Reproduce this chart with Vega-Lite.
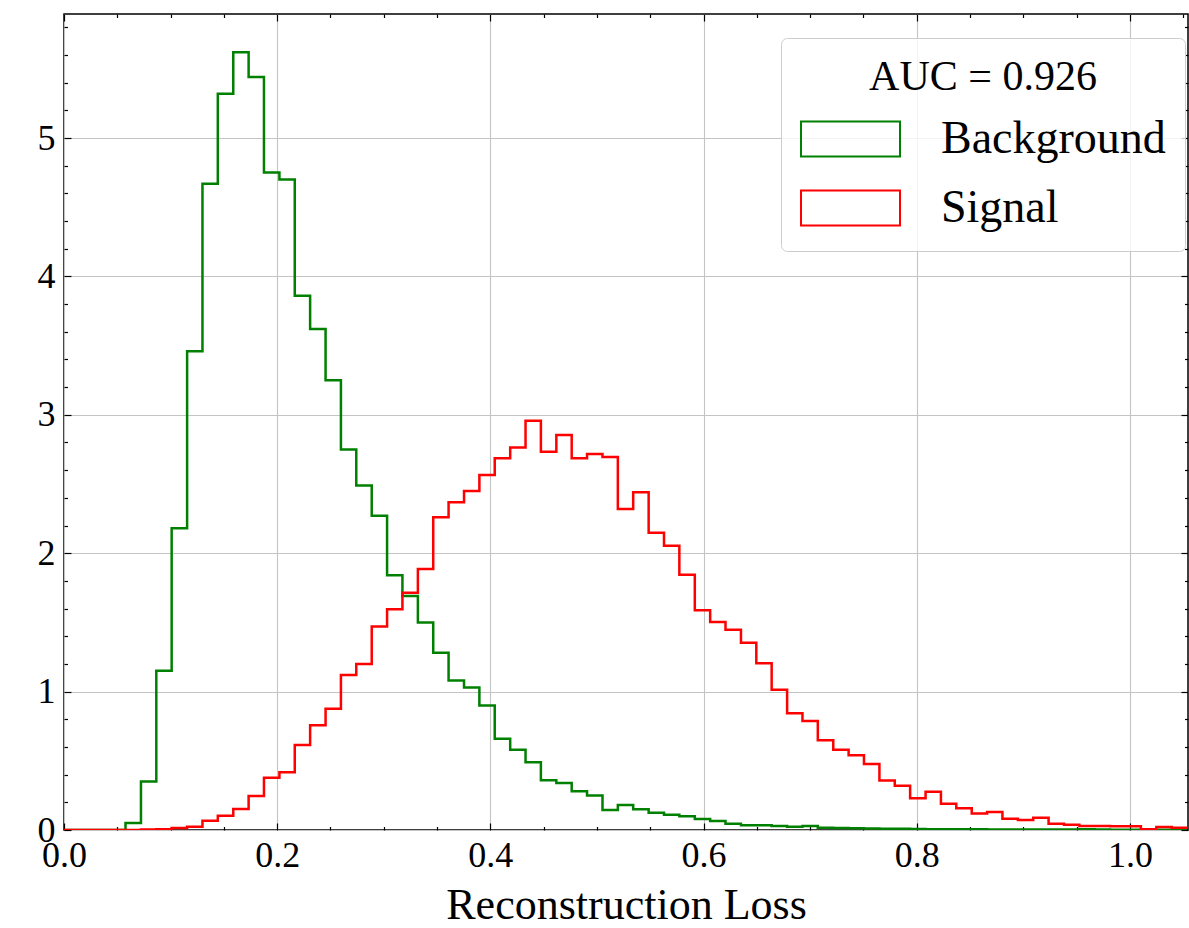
{
  "$schema": "https://vega.github.io/schema/vega-lite/v6.json",
  "width": 1124,
  "height": 816,
  "autosize": {"type": "none"},
  "padding": {"left": 64, "top": 14, "right": 1, "bottom": 98},
  "background": "white",
  "config": {
    "view": {"stroke": "black", "strokeWidth": 1.5},
    "axis": {"domain": false, "tickColor": "black", "tickWidth": 1.2, "labelFont": "Liberation Serif", "titleFont": "Liberation Serif", "labelColor": "black", "titleColor": "black", "gridColor": "#c4c4c4", "gridWidth": 1.1}
  },
  "datasets": {
    "h": [
      {"x": 0, "v": 0, "s": "Background"}, {"x": 0.0144, "v": 0, "s": "Background"}, {"x": 0.0289, "v": 0, "s": "Background"}, {"x": 0.0433, "v": 0, "s": "Background"},
      {"x": 0.0577, "v": 0.05, "s": "Background"}, {"x": 0.0722, "v": 0.35, "s": "Background"}, {"x": 0.0866, "v": 1.15, "s": "Background"}, {"x": 0.1010, "v": 2.18, "s": "Background"},
      {"x": 0.1155, "v": 3.46, "s": "Background"}, {"x": 0.1299, "v": 4.67, "s": "Background"}, {"x": 0.1443, "v": 5.32, "s": "Background"}, {"x": 0.1588, "v": 5.62, "s": "Background"},
      {"x": 0.1732, "v": 5.44, "s": "Background"}, {"x": 0.1876, "v": 4.75, "s": "Background"}, {"x": 0.2021, "v": 4.70, "s": "Background"}, {"x": 0.2165, "v": 3.86, "s": "Background"},
      {"x": 0.2309, "v": 3.62, "s": "Background"}, {"x": 0.2454, "v": 3.25, "s": "Background"}, {"x": 0.2598, "v": 2.75, "s": "Background"}, {"x": 0.2742, "v": 2.49, "s": "Background"},
      {"x": 0.2887, "v": 2.27, "s": "Background"}, {"x": 0.3031, "v": 1.84, "s": "Background"}, {"x": 0.3175, "v": 1.69, "s": "Background"}, {"x": 0.3320, "v": 1.50, "s": "Background"},
      {"x": 0.3464, "v": 1.28, "s": "Background"}, {"x": 0.3608, "v": 1.08, "s": "Background"}, {"x": 0.3753, "v": 1.03, "s": "Background"}, {"x": 0.3897, "v": 0.90, "s": "Background"},
      {"x": 0.4041, "v": 0.66, "s": "Background"}, {"x": 0.4186, "v": 0.58, "s": "Background"}, {"x": 0.4330, "v": 0.49, "s": "Background"}, {"x": 0.4474, "v": 0.36, "s": "Background"},
      {"x": 0.4619, "v": 0.34, "s": "Background"}, {"x": 0.4763, "v": 0.28, "s": "Background"}, {"x": 0.4907, "v": 0.25, "s": "Background"}, {"x": 0.5052, "v": 0.145, "s": "Background"},
      {"x": 0.5196, "v": 0.18, "s": "Background"}, {"x": 0.5340, "v": 0.15, "s": "Background"}, {"x": 0.5485, "v": 0.125, "s": "Background"}, {"x": 0.5629, "v": 0.11, "s": "Background"},
      {"x": 0.5773, "v": 0.10, "s": "Background"}, {"x": 0.5918, "v": 0.08, "s": "Background"}, {"x": 0.6062, "v": 0.065, "s": "Background"}, {"x": 0.6206, "v": 0.045, "s": "Background"},
      {"x": 0.6351, "v": 0.035, "s": "Background"}, {"x": 0.6495, "v": 0.034, "s": "Background"}, {"x": 0.6639, "v": 0.029, "s": "Background"}, {"x": 0.6784, "v": 0.024, "s": "Background"},
      {"x": 0.6928, "v": 0.029, "s": "Background"}, {"x": 0.7072, "v": 0.017, "s": "Background"}, {"x": 0.7217, "v": 0.014, "s": "Background"}, {"x": 0.7361, "v": 0.012, "s": "Background"},
      {"x": 0.7505, "v": 0.010, "s": "Background"}, {"x": 0.7650, "v": 0.009, "s": "Background"}, {"x": 0.7794, "v": 0.009, "s": "Background"}, {"x": 0.7938, "v": 0.007, "s": "Background"},
      {"x": 0.8083, "v": 0.006, "s": "Background"}, {"x": 0.8227, "v": 0.006, "s": "Background"}, {"x": 0.8371, "v": 0.005, "s": "Background"}, {"x": 0.8516, "v": 0.005, "s": "Background"},
      {"x": 0.8660, "v": 0.004, "s": "Background"}, {"x": 0.8804, "v": 0.004, "s": "Background"}, {"x": 0.8949, "v": 0.003, "s": "Background"}, {"x": 0.9093, "v": 0.004, "s": "Background"},
      {"x": 0.9237, "v": 0.003, "s": "Background"}, {"x": 0.9382, "v": 0.003, "s": "Background"}, {"x": 0.9526, "v": 0.006, "s": "Background"}, {"x": 0.9670, "v": 0.003, "s": "Background"},
      {"x": 0.9815, "v": 0.002, "s": "Background"}, {"x": 0.9959, "v": 0.002, "s": "Background"}, {"x": 1.0103, "v": 0.002, "s": "Background"}, {"x": 1.0248, "v": 0.001, "s": "Background"},
      {"x": 1.0392, "v": 0.001, "s": "Background"}, {"x": 1.0536, "v": 0.001, "s": "Background"},
      {"x": 0, "v": 0, "s": "Signal"}, {"x": 0.0144, "v": 0, "s": "Signal"}, {"x": 0.0289, "v": 0, "s": "Signal"}, {"x": 0.0433, "v": 0, "s": "Signal"},
      {"x": 0.0577, "v": 0, "s": "Signal"}, {"x": 0.0722, "v": 0.003, "s": "Signal"}, {"x": 0.0866, "v": 0.005, "s": "Signal"}, {"x": 0.1010, "v": 0.014, "s": "Signal"},
      {"x": 0.1155, "v": 0.024, "s": "Signal"}, {"x": 0.1299, "v": 0.067, "s": "Signal"}, {"x": 0.1443, "v": 0.103, "s": "Signal"}, {"x": 0.1588, "v": 0.152, "s": "Signal"},
      {"x": 0.1732, "v": 0.246, "s": "Signal"}, {"x": 0.1876, "v": 0.378, "s": "Signal"}, {"x": 0.2021, "v": 0.417, "s": "Signal"}, {"x": 0.2165, "v": 0.614, "s": "Signal"},
      {"x": 0.2309, "v": 0.756, "s": "Signal"}, {"x": 0.2454, "v": 0.876, "s": "Signal"}, {"x": 0.2598, "v": 1.12, "s": "Signal"}, {"x": 0.2742, "v": 1.20, "s": "Signal"},
      {"x": 0.2887, "v": 1.47, "s": "Signal"}, {"x": 0.3031, "v": 1.595, "s": "Signal"}, {"x": 0.3175, "v": 1.715, "s": "Signal"}, {"x": 0.3320, "v": 1.886, "s": "Signal"},
      {"x": 0.3464, "v": 2.259, "s": "Signal"}, {"x": 0.3608, "v": 2.368, "s": "Signal"}, {"x": 0.3753, "v": 2.449, "s": "Signal"}, {"x": 0.3897, "v": 2.565, "s": "Signal"},
      {"x": 0.4041, "v": 2.686, "s": "Signal"}, {"x": 0.4186, "v": 2.763, "s": "Signal"}, {"x": 0.4330, "v": 2.957, "s": "Signal"}, {"x": 0.4474, "v": 2.733, "s": "Signal"},
      {"x": 0.4619, "v": 2.854, "s": "Signal"}, {"x": 0.4763, "v": 2.686, "s": "Signal"}, {"x": 0.4907, "v": 2.717, "s": "Signal"}, {"x": 0.5052, "v": 2.695, "s": "Signal"},
      {"x": 0.5196, "v": 2.319, "s": "Signal"}, {"x": 0.5340, "v": 2.44, "s": "Signal"}, {"x": 0.5485, "v": 2.148, "s": "Signal"}, {"x": 0.5629, "v": 2.053, "s": "Signal"},
      {"x": 0.5773, "v": 1.845, "s": "Signal"}, {"x": 0.5918, "v": 1.587, "s": "Signal"}, {"x": 0.6062, "v": 1.503, "s": "Signal"}, {"x": 0.6206, "v": 1.447, "s": "Signal"},
      {"x": 0.6351, "v": 1.353, "s": "Signal"}, {"x": 0.6495, "v": 1.204, "s": "Signal"}, {"x": 0.6639, "v": 1.014, "s": "Signal"}, {"x": 0.6784, "v": 0.843, "s": "Signal"},
      {"x": 0.6928, "v": 0.788, "s": "Signal"}, {"x": 0.7072, "v": 0.648, "s": "Signal"}, {"x": 0.7217, "v": 0.580, "s": "Signal"}, {"x": 0.7361, "v": 0.540, "s": "Signal"},
      {"x": 0.7505, "v": 0.477, "s": "Signal"}, {"x": 0.7650, "v": 0.358, "s": "Signal"}, {"x": 0.7794, "v": 0.320, "s": "Signal"}, {"x": 0.7938, "v": 0.229, "s": "Signal"},
      {"x": 0.8083, "v": 0.277, "s": "Signal"}, {"x": 0.8227, "v": 0.19, "s": "Signal"}, {"x": 0.8371, "v": 0.157, "s": "Signal"}, {"x": 0.8516, "v": 0.12, "s": "Signal"},
      {"x": 0.8660, "v": 0.13, "s": "Signal"}, {"x": 0.8804, "v": 0.082, "s": "Signal"}, {"x": 0.8949, "v": 0.072, "s": "Signal"}, {"x": 0.9093, "v": 0.089, "s": "Signal"},
      {"x": 0.9237, "v": 0.046, "s": "Signal"}, {"x": 0.9382, "v": 0.038, "s": "Signal"}, {"x": 0.9526, "v": 0.029, "s": "Signal"}, {"x": 0.9670, "v": 0.029, "s": "Signal"},
      {"x": 0.9815, "v": 0.027, "s": "Signal"}, {"x": 0.9959, "v": 0.027, "s": "Signal"}, {"x": 1.0103, "v": 0.005, "s": "Signal"}, {"x": 1.0248, "v": 0.022, "s": "Signal"},
      {"x": 1.0392, "v": 0.017, "s": "Signal"}, {"x": 1.0536, "v": 0.017, "s": "Signal"}
    ]
  },
  "data": {"name": "h"},
  "resolve": {"axis": {"x": "independent", "y": "independent"}},
  "layer": [
    {
      "mark": {"type": "line", "interpolate": "step-after", "strokeWidth": 2.5, "clip": true},
      "encoding": {
        "x": {"field": "x", "type": "quantitative", "scale": {"domain": [0, 1.0545], "nice": false, "zero": false},
          "axis": {"orient": "bottom", "values": [0, 0.2, 0.4, 0.6, 0.8, 1.0], "format": ".1f", "tickSize": -7, "labelPadding": 15, "labelFontSize": 36, "labelFlush": false, "grid": true, "title": "Reconstruction Loss", "titleFontSize": 44, "titleFontWeight": "normal", "titlePadding": 10}},
        "y": {"field": "v", "type": "quantitative", "scale": {"domain": [0, 5.896], "nice": false},
          "axis": {"orient": "left", "values": [0, 1, 2, 3, 4, 5], "format": "d", "tickSize": -7, "labelPadding": 16, "labelFontSize": 36, "labelFlush": false, "grid": true, "title": null}},
        "color": {"field": "s", "type": "nominal", "sort": ["Background", "Signal"],
          "scale": {"domain": ["Background", "Signal"], "range": ["green", "red"]},
          "legend": {
            "orient": "none", "legendX": 717, "legendY": 24,
            "title": "AUC = 0.926", "titleFont": "Liberation Serif", "titleFontSize": 42, "titleFontWeight": "normal", "titleColor": "black", "titleAnchor": "middle", "titleAlign": "center", "titlePadding": 16, "titleLimit": 600,
            "labelFont": "Liberation Serif", "labelFontSize": 46, "labelColor": "black", "labelOffset": 40, "labelLimit": 400,
            "symbolType": "M-1,-0.354H1V0.354H-1Z", "symbolSize": 9801, "symbolStrokeWidth": 2, "symbolFillColor": "transparent",
            "clipHeight": 48,
            "fillColor": "rgba(255,255,255,0.8)", "strokeColor": "#cccccc", "cornerRadius": 6, "padding": 19, "rowPadding": 21
          }
        }
      }
    },
    {
      "mark": {"type": "line", "opacity": 0},
      "encoding": {
        "x": {"field": "x", "type": "quantitative", "axis": {"orient": "bottom", "values": [0.05, 0.1, 0.15, 0.25, 0.3, 0.35, 0.45, 0.5, 0.55, 0.65, 0.7, 0.75, 0.85, 0.9, 0.95, 1.05], "tickSize": -3.5, "labels": false, "grid": false, "title": null}},
        "y": {"field": "v", "type": "quantitative", "axis": {"orient": "left", "values": [0.2, 0.4, 0.6, 0.8, 1.2, 1.4, 1.6, 1.8, 2.2, 2.4, 2.6, 2.8, 3.2, 3.4, 3.6, 3.8, 4.2, 4.4, 4.6, 4.8, 5.2, 5.4, 5.6, 5.8], "tickSize": -3.5, "labels": false, "grid": false, "title": null}},
        "detail": {"field": "s"}
      }
    },
    {
      "mark": {"type": "line", "opacity": 0},
      "encoding": {
        "x": {"field": "x", "type": "quantitative", "axis": {"orient": "top", "values": [0, 0.2, 0.4, 0.6, 0.8, 1.0], "tickSize": -7, "labels": false, "grid": false, "title": null}},
        "y": {"field": "v", "type": "quantitative", "axis": {"orient": "right", "values": [0, 1, 2, 3, 4, 5], "tickSize": -7, "labels": false, "grid": false, "title": null}},
        "detail": {"field": "s"}
      }
    },
    {
      "mark": {"type": "line", "opacity": 0},
      "encoding": {
        "x": {"field": "x", "type": "quantitative", "axis": {"orient": "top", "values": [0.05, 0.1, 0.15, 0.25, 0.3, 0.35, 0.45, 0.5, 0.55, 0.65, 0.7, 0.75, 0.85, 0.9, 0.95, 1.05], "tickSize": -3.5, "labels": false, "grid": false, "title": null}},
        "y": {"field": "v", "type": "quantitative", "axis": {"orient": "right", "values": [0.2, 0.4, 0.6, 0.8, 1.2, 1.4, 1.6, 1.8, 2.2, 2.4, 2.6, 2.8, 3.2, 3.4, 3.6, 3.8, 4.2, 4.4, 4.6, 4.8, 5.2, 5.4, 5.6, 5.8], "tickSize": -3.5, "labels": false, "grid": false, "title": null}},
        "detail": {"field": "s"}
      }
    }
  ]
}
